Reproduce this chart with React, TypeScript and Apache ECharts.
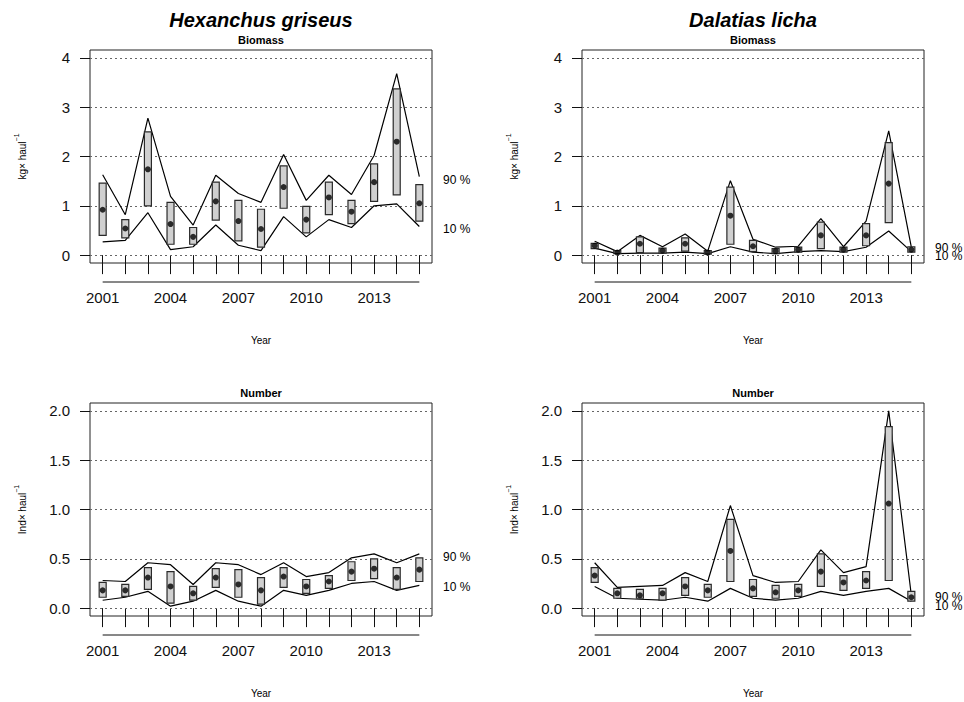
import React, { useEffect, useRef } from 'react';
import * as echarts from 'echarts';

const years = [2001, 2002, 2003, 2004, 2005, 2006, 2007, 2008, 2009, 2010, 2011, 2012, 2013, 2014, 2015];
const xLabelYears = [2001, 2004, 2007, 2010, 2013];
const bioTicks = [0, 1, 2, 3, 4];
const numTicks = [0, 0.5, 1, 1.5, 2];

// Hexanchus griseus - Biomass
const hgBioMean = [0.92, 0.54, 1.74, 0.63, 0.37, 1.09, 0.69, 0.53, 1.38, 0.72, 1.17, 0.88, 1.48, 2.30, 1.05];
const hgBioLo = [0.40, 0.35, 1.00, 0.22, 0.22, 0.71, 0.29, 0.16, 0.95, 0.45, 0.82, 0.64, 1.09, 1.22, 0.69];
const hgBioHi = [1.46, 0.72, 2.50, 1.07, 0.56, 1.48, 1.11, 0.93, 1.81, 0.99, 1.48, 1.11, 1.85, 3.37, 1.43];
const hgBioQ90 = [1.63, 0.82, 2.78, 1.19, 0.61, 1.62, 1.25, 1.07, 2.04, 1.11, 1.62, 1.23, 2.02, 3.68, 1.59];
const hgBioQ10 = [0.27, 0.30, 0.86, 0.11, 0.17, 0.61, 0.20, 0.09, 0.78, 0.37, 0.72, 0.56, 1.00, 1.04, 0.58];

// Dalatias licha - Biomass
const dlBioMean = [0.19, 0.05, 0.23, 0.09, 0.23, 0.05, 0.80, 0.18, 0.08, 0.11, 0.40, 0.11, 0.40, 1.45, 0.11];
const dlBioLo = [0.13, 0.03, 0.05, 0.04, 0.08, 0.02, 0.22, 0.07, 0.03, 0.06, 0.13, 0.06, 0.19, 0.66, 0.06];
const dlBioHi = [0.24, 0.09, 0.37, 0.14, 0.35, 0.09, 1.38, 0.30, 0.13, 0.16, 0.67, 0.16, 0.64, 2.28, 0.17];
const dlBioQ90 = [0.28, 0.07, 0.40, 0.17, 0.43, 0.08, 1.51, 0.32, 0.16, 0.18, 0.74, 0.17, 0.69, 2.52, 0.16];
const dlBioQ10 = [0.14, 0.03, 0.04, 0.04, 0.06, 0.03, 0.17, 0.06, 0.03, 0.07, 0.09, 0.07, 0.16, 0.49, 0.07];

// Hexanchus griseus - Number
const hgNumMean = [0.18, 0.18, 0.31, 0.22, 0.15, 0.31, 0.24, 0.18, 0.32, 0.22, 0.27, 0.37, 0.40, 0.31, 0.39];
const hgNumLo = [0.11, 0.12, 0.19, 0.05, 0.08, 0.21, 0.11, 0.04, 0.21, 0.15, 0.20, 0.28, 0.30, 0.19, 0.27];
const hgNumHi = [0.26, 0.24, 0.41, 0.37, 0.22, 0.40, 0.39, 0.31, 0.41, 0.29, 0.33, 0.47, 0.50, 0.41, 0.51];
const hgNumQ90 = [0.28, 0.27, 0.46, 0.44, 0.24, 0.46, 0.44, 0.34, 0.46, 0.32, 0.36, 0.51, 0.55, 0.46, 0.55];
const hgNumQ10 = [0.08, 0.11, 0.17, 0.02, 0.07, 0.18, 0.07, 0.02, 0.18, 0.13, 0.18, 0.25, 0.27, 0.18, 0.23];

// Dalatias licha - Number
const dlNumMean = [0.33, 0.15, 0.13, 0.15, 0.22, 0.18, 0.58, 0.20, 0.16, 0.18, 0.37, 0.26, 0.28, 1.06, 0.11];
const dlNumLo = [0.26, 0.10, 0.10, 0.08, 0.13, 0.11, 0.27, 0.12, 0.10, 0.12, 0.22, 0.18, 0.20, 0.28, 0.07];
const dlNumHi = [0.41, 0.20, 0.19, 0.20, 0.31, 0.24, 0.90, 0.29, 0.23, 0.24, 0.55, 0.33, 0.37, 1.84, 0.17];
const dlNumQ90 = [0.46, 0.21, 0.22, 0.23, 0.36, 0.27, 1.04, 0.33, 0.26, 0.27, 0.59, 0.36, 0.42, 2.00, 0.13];
const dlNumQ10 = [0.22, 0.10, 0.09, 0.08, 0.11, 0.07, 0.20, 0.10, 0.08, 0.10, 0.17, 0.13, 0.17, 0.20, 0.07];

// vertical position (in data units) of the "90 %" / "10 %" margin labels
const pct90Pos = [1.53, 0.15, 0.52, 0.11];
const pct10Pos = [0.53, -0.01, 0.21, 0.02];

const FONT = '"Liberation Sans", Arial, Helvetica, sans-serif';

type Panel = {
  left: number; top: number;
  ticks: number[]; yMin: number; yMax: number; dec: number;
  mean: number[]; lo: number[]; hi: number[]; q90: number[]; q10: number[];
  sub: string; unit: string;
};

const W = 342;
const H = 213;
const X_TICK = 19;

const panels: Panel[] = [
  { left: 90, top: 50, ticks: bioTicks, yMin: -0.16, yMax: 4.16, dec: 0, mean: hgBioMean, lo: hgBioLo, hi: hgBioHi, q90: hgBioQ90, q10: hgBioQ10, sub: 'Biomass', unit: 'kg' },
  { left: 582, top: 50, ticks: bioTicks, yMin: -0.16, yMax: 4.16, dec: 0, mean: dlBioMean, lo: dlBioLo, hi: dlBioHi, q90: dlBioQ90, q10: dlBioQ10, sub: 'Biomass', unit: 'kg' },
  { left: 90, top: 403, ticks: numTicks, yMin: -0.08, yMax: 2.08, dec: 1, mean: hgNumMean, lo: hgNumLo, hi: hgNumHi, q90: hgNumQ90, q10: hgNumQ10, sub: 'Number', unit: 'Ind' },
  { left: 582, top: 403, ticks: numTicks, yMin: -0.08, yMax: 2.08, dec: 1, mean: dlNumMean, lo: dlNumLo, hi: dlNumHi, q90: dlNumQ90, q10: dlNumQ10, sub: 'Number', unit: 'Ind' },
];

const speciesTitles = ['Hexanchus griseus', 'Dalatias licha'];

function buildOption() {
  const grid: any[] = [];
  const xAxis: any[] = [];
  const yAxis: any[] = [];
  const series: any[] = [];
  const graphic: any[] = [];

  panels.forEach((p, i) => {
    grid.push({
      left: p.left, top: p.top, width: W, height: H,
      show: true, borderColor: '#222', borderWidth: 1, backgroundColor: 'transparent',
      containLabel: false,
    });
    xAxis.push({
      type: 'value', gridIndex: i, min: 2000.44, max: 2015.56,
      axisLine: { show: false },
      axisTick: { show: true, customValues: years, length: X_TICK, inside: false, lineStyle: { color: '#111', width: 1 } },
      axisLabel: { customValues: xLabelYears, margin: X_TICK + 8, fontSize: 15, color: '#111', fontFamily: FONT, formatter: (v: number) => String(Math.round(v)) },
      splitLine: { show: false },
    });
    yAxis.push({
      type: 'value', gridIndex: i, min: p.yMin, max: p.yMax,
      axisLine: { show: false },
      axisTick: { show: true, customValues: p.ticks, length: 10, inside: false, lineStyle: { color: '#111', width: 1 } },
      axisLabel: { customValues: p.ticks, margin: 20, fontSize: 15, color: '#111', fontFamily: FONT, formatter: (v: number) => v.toFixed(p.dec) },
      splitLine: { show: false },
    });

    series.push({
      type: 'line', xAxisIndex: i, yAxisIndex: i,
      data: years.map((y, k) => [y, p.q90[k]]),
      showSymbol: false, symbol: 'none',
      lineStyle: { color: '#000', width: 1.2 },
      z: 3,
      markLine: {
        silent: true, symbol: 'none', label: { show: false },
        lineStyle: { color: '#666', type: [2, 3], width: 1 },
        data: p.ticks.map((t) => ({ yAxis: t })),
        z: 1,
      },
    });
    series.push({
      type: 'line', xAxisIndex: i, yAxisIndex: i,
      data: years.map((y, k) => [y, p.q10[k]]),
      showSymbol: false, symbol: 'none',
      lineStyle: { color: '#000', width: 1.2 },
      z: 3,
    });
    series.push({
      type: 'custom', xAxisIndex: i, yAxisIndex: i,
      data: years.map((y, k) => [y, p.lo[k], p.hi[k]]),
      encode: { x: 0, y: [1, 2] },
      z: 4,
      renderItem: (params: any, api: any) => {
        const x = api.value(0);
        const top = api.coord([x, api.value(2)]);
        const bot = api.coord([x, api.value(1)]);
        return {
          type: 'rect',
          shape: { x: top[0] - 3.5, y: top[1], width: 7, height: bot[1] - top[1] },
          style: { fill: '#d0d0d0', stroke: '#2a2a2a', lineWidth: 1.2 },
        };
      },
    });
    series.push({
      type: 'scatter', xAxisIndex: i, yAxisIndex: i,
      data: years.map((y, k) => [y, p.mean[k]]),
      symbol: 'circle', symbolSize: 6,
      itemStyle: { color: '#000' },
      z: 5,
    });

    const cx = p.left + W / 2;
    graphic.push({
      type: 'text', x: cx, y: p.top - 10,
      style: { text: p.sub, font: `bold 11px ${FONT}`, fill: '#000', align: 'center', verticalAlign: 'middle' },
    });
    graphic.push({
      type: 'text', x: cx, y: p.top + H + 77,
      style: { text: 'Year', font: `10px ${FONT}`, fill: '#000', align: 'center', verticalAlign: 'middle' },
    });
    graphic.push({
      type: 'text', x: p.left - 70, y: p.top + H / 2, rotation: Math.PI / 2,
      style: {
        text: `{a|${p.unit}× haul}{s|−1}`,
        align: 'center', verticalAlign: 'middle',
        rich: {
          a: { font: `10px ${FONT}`, fill: '#000', verticalAlign: 'bottom', lineHeight: 14 },
          s: { font: `7px ${FONT}`, fill: '#000', verticalAlign: 'top', lineHeight: 14 },
        },
      },
    });
  });

  speciesTitles.forEach((t, j) => {
    graphic.push({
      type: 'text', x: panels[j].left + W / 2, y: 20,
      style: { text: t, font: `italic bold 20px ${FONT}`, fill: '#000', align: 'center', verticalAlign: 'middle' },
    });
  });

  return {
    animation: false,
    backgroundColor: '#fff',
    grid, xAxis, yAxis, series, graphic,
  };
}

export default function App() {
  const ref = useRef<HTMLDivElement>(null);
  useEffect(() => {
    if (!ref.current) return;
    const chart = echarts.init(ref.current, null, { renderer: 'svg' });
    const option: any = buildOption();
    chart.setOption(option);
    const extra: any[] = [];
    panels.forEach((p, i) => {
      const a = chart.convertToPixel({ gridIndex: i }, [2015, pct90Pos[i]]) as number[];
      const b = chart.convertToPixel({ gridIndex: i }, [2015, pct10Pos[i]]) as number[];
      extra.push({
        type: 'text', x: p.left + W + 11, y: a[1],
        style: { text: '90 %', font: `12px ${FONT}`, fill: '#000', align: 'left', verticalAlign: 'middle' },
      });
      extra.push({
        type: 'text', x: p.left + W + 11, y: b[1],
        style: { text: '10 %', font: `12px ${FONT}`, fill: '#000', align: 'left', verticalAlign: 'middle' },
      });
      // x-axis baseline spanning first to last year, like R's axis()
      const s = chart.convertToPixel({ gridIndex: i }, [years[0], 0]) as number[];
      const e = chart.convertToPixel({ gridIndex: i }, [years[years.length - 1], 0]) as number[];
      const yb = p.top + H + X_TICK;
      extra.push({
        type: 'line', shape: { x1: s[0], y1: yb, x2: e[0], y2: yb },
        style: { stroke: '#111', lineWidth: 1 },
      });
    });
    chart.setOption({ graphic: [...option.graphic, ...extra] });
    return () => chart.dispose();
  }, []);
  return <div ref={ref} style={{ width: 964, height: 702, position: 'absolute', left: 0, top: 0 }} />;
}
